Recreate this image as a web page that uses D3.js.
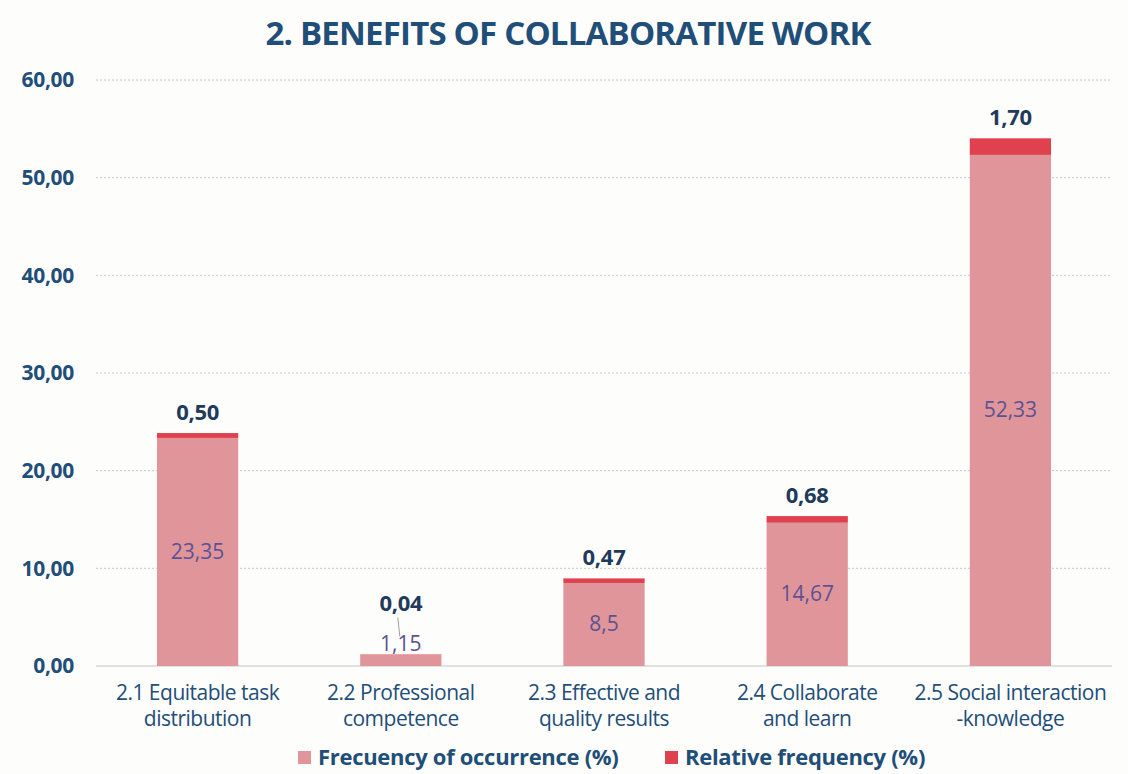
<!DOCTYPE html>
<html>
<head>
<meta charset="utf-8">
<script src="https://cdn.jsdelivr.net/npm/d3@7"></script>
<style>
  body { margin: 0; background: #fdfdfb; }
  svg { display: block; font-family: "Open Sans", sans-serif; }
</style>
</head>
<body>
<div id="chart"></div>
<script>
// data
var categories = [
    ["2.1 Equitable task", "distribution"],
    ["2.2 Professional", "competence"],
    ["2.3 Effective and", "quality results"],
    ["2.4 Collaborate", "and learn"],
    ["2.5 Social interaction", "-knowledge"]
];
var occurrence = [23.35, 1.15, 8.5, 14.67, 52.33];
var occurrenceText = ["23,35", "1,15", "8,5", "14,67", "52,33"];
var relative = [0.50, 0.04, 0.47, 0.68, 1.70];
var relativeText = ["0,50", "0,04", "0,47", "0,68", "1,70"];
var yTicks = [0, 10, 20, 30, 40, 50, 60];
var seriesNames = ["Frecuency of occurrence (%)", "Relative frequency (%)"];

var width = 1128, height = 774;
var margin = { top: 80, right: 16, bottom: 108, left: 96 };
var colors = ["#e0959b", "#e0414f"];
var dark = "#1f4e79";

var svg = d3.select("#chart").append("svg")
    .attr("width", width)
    .attr("height", height);

svg.append("text")
    .attr("x", 568)
    .attr("y", 45)
    .attr("text-anchor", "middle")
    .attr("font-size", "33px")
    .attr("font-weight", "bold")
    .attr("fill", dark)
    .attr("letter-spacing", "-0.8px")
    .text("2. BENEFITS OF COLLABORATIVE WORK");

var x = d3.scaleBand()
    .domain(d3.range(categories.length))
    .range([margin.left, width - margin.right])
    .paddingInner(0.6)
    .paddingOuter(0.3);

var y = d3.scaleLinear()
    .domain([0, 60])
    .range([height - margin.bottom, margin.top]);

// grid
svg.append("g")
    .selectAll("line")
    .data(yTicks.filter(function (d) { return d > 0; }))
    .enter().append("line")
    .attr("x1", margin.left)
    .attr("x2", width - margin.right)
    .attr("y1", function (d) { return y(d); })
    .attr("y2", function (d) { return y(d); })
    .attr("stroke", "#c8c8c8")
    .attr("stroke-width", 1)
    .attr("stroke-dasharray", "2,2");

svg.append("line")
    .attr("x1", margin.left)
    .attr("x2", width - margin.right)
    .attr("y1", y(0))
    .attr("y2", y(0))
    .attr("stroke", "#d6d6d6")
    .attr("stroke-width", 1.5);

// y axis
var yAxis = d3.axisLeft(y)
    .tickValues(yTicks)
    .tickSize(0)
    .tickPadding(22)
    .tickFormat(function (d) { return d3.format(".2f")(d).replace(".", ","); });

var yg = svg.append("g")
    .attr("transform", "translate(" + margin.left + ",0)")
    .call(yAxis);
yg.select(".domain").remove();
yg.selectAll("text")
    .attr("font-size", "21px")
    .attr("font-weight", "bold")
    .attr("fill", dark)
    .attr("letter-spacing", "-0.3px")
    .attr("font-family", "'Open Sans', sans-serif");

// stacked bars
var bars = svg.append("g");
occurrence.forEach(function (v, i) {
    var x0 = x(i), bw = x.bandwidth();
    bars.append("rect")
        .attr("x", x0)
        .attr("width", bw)
        .attr("y", y(v))
        .attr("height", y(0) - y(v))
        .attr("fill", colors[0]);
    bars.append("rect")
        .attr("x", x0)
        .attr("width", bw)
        .attr("y", y(v + relative[i]))
        .attr("height", y(v) - y(v + relative[i]))
        .attr("fill", colors[1]);

    var cx = x0 + bw / 2;
    var segH = y(0) - y(v);
    var top = y(v + relative[i]);
    var small = segH < 20;

    // inner value
    bars.append("text")
        .attr("x", cx)
        .attr("y", small ? top - 3 : y(v / 2) + 7)
        .attr("text-anchor", "middle")
        .attr("font-size", "21px")
        .attr("fill", "#5b5391")
        .text(occurrenceText[i]);

    // outer value
    var ly = small ? top - 43 : top - 13;
    bars.append("text")
        .attr("x", cx)
        .attr("y", ly)
        .attr("text-anchor", "middle")
        .attr("font-size", "22px")
        .attr("font-weight", "bold")
        .attr("fill", "#213a5c")
        .attr("letter-spacing", "-0.3px")
        .text(relativeText[i]);
    if (small) {
        bars.append("line")
            .attr("x1", cx - 3).attr("y1", ly + 6)
            .attr("x2", cx - 1).attr("y2", top - 18)
            .attr("stroke", "#a0a0a0")
            .attr("stroke-width", 1);
    }
});

// x labels
var xl = svg.append("g");
categories.forEach(function (lines, i) {
    var t = xl.append("text")
        .attr("text-anchor", "middle")
        .attr("font-size", "21px")
        .attr("fill", dark)
        .attr("letter-spacing", "-0.5px");
    lines.forEach(function (s, k) {
        t.append("tspan")
            .attr("x", x(i) + x.bandwidth() / 2)
            .attr("y", y(0) + 34 + k * 26)
            .text(s);
    });
});

// legend
var legendX = [298, 665];
var lg = svg.append("g");
seriesNames.forEach(function (name, i) {
    lg.append("rect")
        .attr("x", legendX[i])
        .attr("y", 751)
        .attr("width", 13)
        .attr("height", 13)
        .attr("fill", colors[i]);
    lg.append("text")
        .attr("x", legendX[i] + 20)
        .attr("y", 765)
        .attr("font-size", "22px")
        .attr("font-weight", "bold")
        .attr("fill", dark)
        .attr("letter-spacing", "-0.3px")
        .text(name);
});
</script>
</body>
</html>
